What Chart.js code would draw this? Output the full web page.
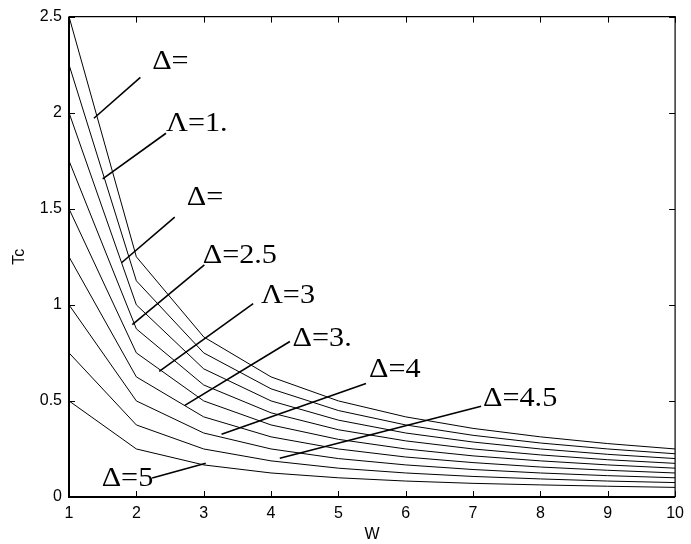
<!DOCTYPE html>
<html>
<head>
<meta charset="utf-8">
<script src="https://cdn.jsdelivr.net/npm/chart.js@4"></script>
<style>
  body { margin: 0; background: #fff; }
  #wrap { width: 691px; height: 544px; }
</style>
</head>
<body>
<div id="wrap"><canvas id="tcChart" width="691" height="544"></canvas></div>
<script>
// W values along the x axis
const wValues = [1, 2, 3, 4, 5, 6, 7, 8, 9, 10];

// Tc curves (top curve first)
const tc1 = [2.5, 1.25, 0.833, 0.625, 0.5, 0.417, 0.357, 0.313, 0.278, 0.25];
const tc2 = [2.25, 1.125, 0.75, 0.563, 0.45, 0.375, 0.321, 0.281, 0.25, 0.225];
const tc3 = [2.0, 1.0, 0.667, 0.5, 0.4, 0.333, 0.286, 0.25, 0.222, 0.2];
const tc4 = [1.75, 0.875, 0.583, 0.438, 0.35, 0.292, 0.25, 0.219, 0.194, 0.175];
const tc5 = [1.5, 0.75, 0.5, 0.375, 0.3, 0.25, 0.214, 0.188, 0.167, 0.15];
const tc6 = [1.25, 0.625, 0.417, 0.313, 0.25, 0.208, 0.179, 0.156, 0.139, 0.125];
const tc7 = [1.0, 0.5, 0.333, 0.25, 0.2, 0.167, 0.143, 0.125, 0.111, 0.1];
const tc8 = [0.75, 0.375, 0.25, 0.188, 0.15, 0.125, 0.107, 0.094, 0.083, 0.075];
const tc9 = [0.5, 0.25, 0.167, 0.125, 0.1, 0.083, 0.071, 0.063, 0.056, 0.05];
const curves = [tc1, tc2, tc3, tc4, tc5, tc6, tc7, tc8, tc9];

// tick labels
const xTicks = [1, 2, 3, 4, 5, 6, 7, 8, 9, 10];
const yTicks = [0, 0.5, 1, 1.5, 2, 2.5];

// Delta labels with leader lines, in data units (W, Tc)
const labelTexts = ['Δ=', 'Λ=1.', 'Δ=', 'Δ=2.5', 'Λ=3', 'Δ=3.', 'Δ=4', 'Δ=4.5', 'Δ=5'];
const labelAt = [[2.235, 2.225], [2.44, 1.904], [2.75, 1.52], [2.985, 1.219], [3.85, 1.011],
                 [4.32, 0.788], [5.455, 0.622], [7.147, 0.472], [1.485, 0.057]];
const leaderFrom = [[2.06, 2.184], [2.44, 1.893], [2.57, 1.457], [3.01, 1.208], [3.735, 1.006],
                    [4.28, 0.809], [5.41, 0.591], [7.12, 0.472], [2.235, 0.099]];
const leaderTo = [[1.37, 1.971], [1.5, 1.655], [1.78, 1.219], [1.94, 0.897], [2.34, 0.654],
                  [2.72, 0.477], [3.265, 0.327], [4.13, 0.202], [3.03, 0.176]];

const sansFont = '"Liberation Sans", Arial, sans-serif';

// box, inward ticks and the labels
const framePlugin = {
    id: 'frame',
    afterDraw(chart) {
        const ctx = chart.ctx;
        const a = chart.chartArea;
        const xs = chart.scales.x;
        const ys = chart.scales.y;
        ctx.save();
        ctx.strokeStyle = '#000';
        ctx.lineWidth = 1;
        xTicks.forEach(v => {
            const px = Math.round(xs.getPixelForValue(v)) + 0.5;
            ctx.beginPath();
            ctx.moveTo(px, a.bottom); ctx.lineTo(px, a.bottom - 6);
            ctx.moveTo(px, a.top); ctx.lineTo(px, a.top + 6);
            ctx.stroke();
        });
        yTicks.forEach(v => {
            const py = Math.round(ys.getPixelForValue(v)) + 0.5;
            ctx.beginPath();
            ctx.moveTo(a.left, py); ctx.lineTo(a.left + 6, py);
            ctx.moveTo(a.right, py); ctx.lineTo(a.right - 6, py);
            ctx.stroke();
        });
        // top and right edges thin, left and bottom heavier
        ctx.lineWidth = 1.2;
        ctx.beginPath();
        ctx.moveTo(a.left, a.top); ctx.lineTo(a.right, a.top); ctx.lineTo(a.right, a.bottom);
        ctx.stroke();
        ctx.lineWidth = 2;
        ctx.beginPath();
        ctx.moveTo(a.left, a.top); ctx.lineTo(a.left, a.bottom); ctx.lineTo(a.right, a.bottom);
        ctx.stroke();

        // leader lines
        ctx.lineWidth = 1.6;
        leaderFrom.forEach((p, i) => {
            const q = leaderTo[i];
            ctx.beginPath();
            ctx.moveTo(xs.getPixelForValue(p[0]), ys.getPixelForValue(p[1]));
            ctx.lineTo(xs.getPixelForValue(q[0]), ys.getPixelForValue(q[1]));
            ctx.stroke();
        });

        // labels
        ctx.fillStyle = '#000';
        ctx.font = '28px "Liberation Serif", "Times New Roman", serif';
        ctx.textBaseline = 'alphabetic';
        ctx.textAlign = 'left';
        labelTexts.forEach((t, i) => {
            const px = xs.getPixelForValue(labelAt[i][0]);
            const py = ys.getPixelForValue(labelAt[i][1]);
            ctx.save();
            ctx.translate(px, py);
            ctx.scale(1.08, 1);
            ctx.fillText(t, 0, 0);
            ctx.restore();
        });
        ctx.restore();
    }
};

document.addEventListener('DOMContentLoaded', () => {
    const ctx = document.getElementById('tcChart').getContext('2d');
    new Chart(ctx, {
        type: 'line',
        data: {
            datasets: curves.map(c => ({
                data: c.map((v, i) => ({ x: wValues[i], y: v })),
                borderColor: '#000',
                borderWidth: 1,
                pointRadius: 0,
                fill: false,
                tension: 0
            }))
        },
        options: {
            responsive: false,
            animation: false,
            devicePixelRatio: 1,
            layout: { padding: { left: 0, right: 10, top: 15, bottom: 0 } },
            plugins: {
                legend: { display: false },
                tooltip: { enabled: false }
            },
            scales: {
                x: {
                    type: 'linear',
                    min: 1,
                    max: 10,
                    afterFit: s => { s.height = 47; },
                    afterBuildTicks: s => { s.ticks = xTicks.map(v => ({ value: v })); },
                    grid: { display: false, drawTicks: false },
                    border: { display: false },
                    ticks: {
                        color: '#000',
                        padding: 7,
                        maxRotation: 0,
                        callback: v => String(v),
                        font: { family: sansFont, size: 16 }
                    },
                    title: {
                        display: true,
                        text: 'W',
                        color: '#000',
                        padding: { top: 0, bottom: 0 },
                        font: { family: sansFont, size: 16 }
                    }
                },
                y: {
                    min: 0,
                    max: 2.5,
                    afterFit: s => { s.width = 69; },
                    afterBuildTicks: s => { s.ticks = yTicks.map(v => ({ value: v })); },
                    grid: { display: false, drawTicks: false },
                    border: { display: false },
                    ticks: {
                        color: '#000',
                        padding: 7,
                        callback: v => String(v),
                        font: { family: sansFont, size: 16 }
                    },
                    title: {
                        display: true,
                        text: 'Tc',
                        color: '#000',
                        padding: { top: 10, bottom: 0 },
                        font: { family: sansFont, size: 16 }
                    }
                }
            }
        },
        plugins: [framePlugin]
    });
});
</script>
</body>
</html>
